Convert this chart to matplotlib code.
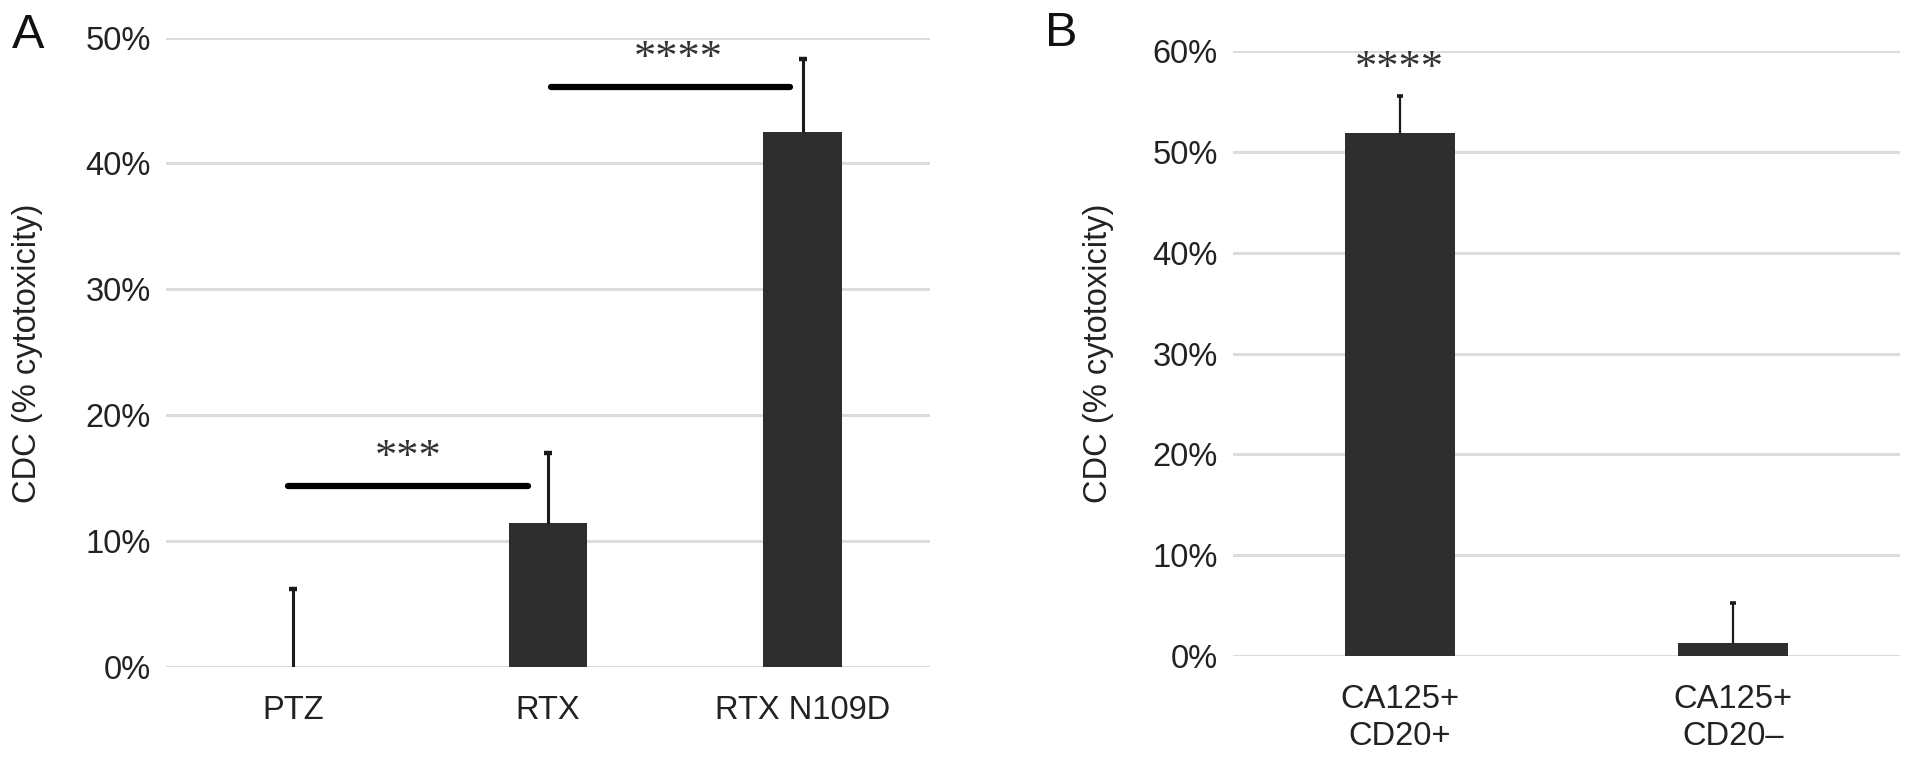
from matplotlib import pyplot as plt
import numpy as np

# Panel A data
catsA = ["PTZ", "RTX", "RTX N109D"]
meanA = [0.0, 11.4, 42.5]
errA = [6.2, 5.6, 5.8]

# Panel B data
catsB = ["CA125+\nCD20+", "CA125+\nCD20\u2013"]
meanB = [51.9, 1.3]
errB = [3.6, 4.0]

bar_color = "#2e2e2e"
grid_color = "#dcdcdc"
fs = 23.5

plt.rcParams['font.family'] = ['Liberation Sans', 'DejaVu Sans']

fig = plt.figure(figsize=(19.13, 7.59), dpi=100)

# axes positions in figure fractions
axA = fig.add_axes([166 / 1913, 1 - 667 / 759, (930 - 166) / 1913, (667 - 37.5) / 759])
axB = fig.add_axes([1233 / 1913, 1 - 656 / 759, (1900 - 1233) / 1913, (656 - 51) / 759])


def style(ax, ymax, pad_x):
	for s in ax.spines.values():
		s.set_visible(False)
	ax.set_ylim(0, ymax)
	ax.set_yticks(np.arange(0, ymax + 1, 10))
	ax.set_yticklabels([f"{int(v)}%" for v in np.arange(0, ymax + 1, 10)])
	ax.yaxis.grid(True, color=grid_color, linewidth=2.2, zorder=0)
	ax.set_axisbelow(True)
	ax.tick_params(axis='both', length=0, labelsize=fs, colors="#222222")
	ax.tick_params(axis='y', pad=11)
	ax.tick_params(axis='x', pad=pad_x)


# upper-only error bars with a small cap on top
def upper_err(ax, x, mean, err, lw, cap):
	top = np.array(mean) + np.array(err)
	ax.vlines(x, mean, top, color="#1a1a1a", linewidth=lw, zorder=3)
	ax.plot(x, top, linestyle="none", marker="_", markersize=cap, markeredgewidth=lw + 1,
		color="#1a1a1a", zorder=3)


# Panel A
xA = np.arange(len(catsA))
axA.bar(xA, meanA, width=0.31, color=bar_color, linewidth=0, zorder=2)
upper_err(axA, xA, meanA, errA, 2.2, 6)
axA.set_xlim(-0.5, 2.5)
axA.set_xticks(xA)
axA.set_xticklabels(catsA)
style(axA, 50, 20)

# significance lines
axA.plot([-0.02, 0.92], [14.4, 14.4], color="black", linewidth=4.5, solid_capstyle='round', zorder=4)
axA.text(0.45, 15.0, "***", family="Liberation Serif", fontsize=32, ha="center", va="bottom", color="#333333")
axA.plot([1.01, 1.95], [46.1, 46.1], color="black", linewidth=4.5, solid_capstyle='round', zorder=4)
axA.text(1.51, 46.7, "****", family="Liberation Serif", fontsize=32, ha="center", va="bottom", color="#333333")

# Panel B
xB = np.arange(len(catsB))
axB.bar(xB, meanB, width=0.33, color=bar_color, linewidth=0, zorder=2)
upper_err(axB, xB, meanB, errB, 1.6, 5)
axB.set_xlim(-0.5, 1.5)
axB.set_xticks(xB)
axB.set_xticklabels(catsB, linespacing=1.25)
style(axB, 60, 20)
axB.text(0, 56.2, "****", family="Liberation Serif", fontsize=32, ha="center", va="bottom", color="#333333")

# y labels and panel letters
fig.text(28 / 1913, 1 - 353 / 759, "CDC (% cytotoxicity)", rotation=90, fontsize=fs,
	ha="center", va="center", color="#222222")
fig.text(1098 / 1913, 1 - 353 / 759, "CDC (% cytotoxicity)", rotation=90, fontsize=fs,
	ha="center", va="center", color="#222222")
fig.text(28 / 1913, 1 - 36 / 759, "A", fontsize=35, ha="center", va="center", color="#111111")
fig.text(1061 / 1913, 1 - 34 / 759, "B", fontsize=35, ha="center", va="center", color="#111111")

plt.savefig("out.png", dpi=100)
